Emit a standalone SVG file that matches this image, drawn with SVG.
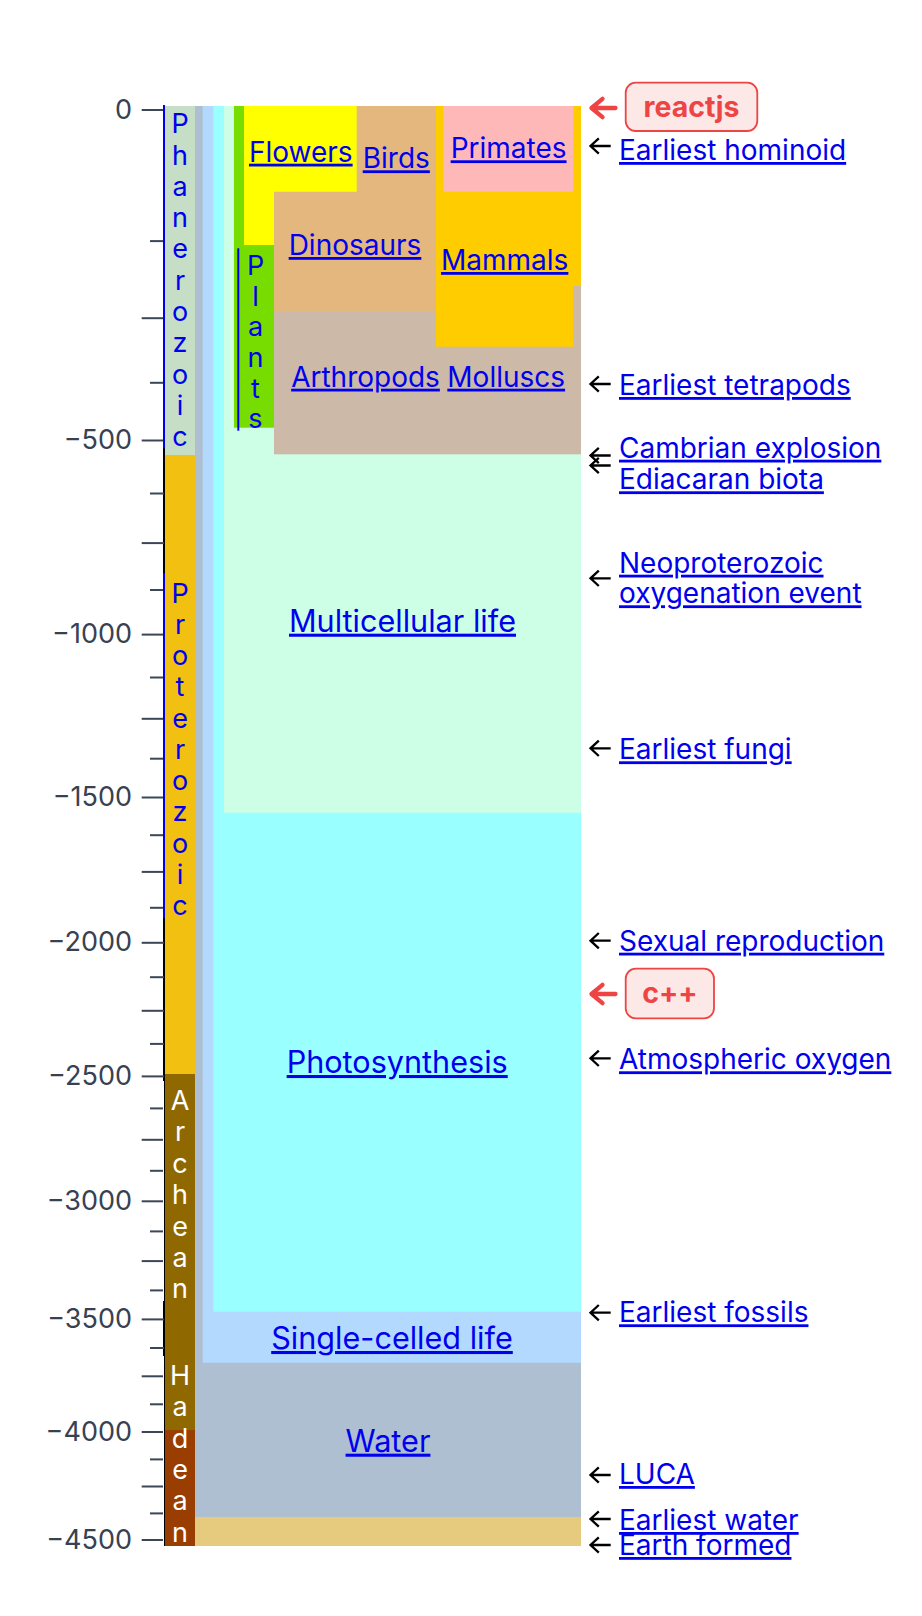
<svg xmlns="http://www.w3.org/2000/svg" width="922" height="1616" viewBox="0 0 922 1616">
<style>
text{font-family:Inter,"Noto Sans","Liberation Sans",sans-serif}
.lnk{fill:#0000ee;font-size:28px;text-decoration:underline}
.big{fill:#0000ee;font-size:30.6px;text-decoration:underline}
.ctr{text-anchor:middle}
.ax{fill:#374151;font-size:27px;text-anchor:end}
.tk{stroke:#3b4657;stroke-width:2}
.vt{font-size:27px;text-anchor:middle}
.blue{fill:#0000ee}
.wht{fill:#ffffff}
.arr{fill:none;stroke:#000;stroke-width:2.3}
.rarr{fill:none;stroke:#ef4444;stroke-width:4.3;stroke-linecap:round;stroke-linejoin:round}
.badge{fill:#fde8e8;stroke:#ef4444;stroke-width:1.8}
.btxt{fill:#ef4444;font-size:28.5px;font-weight:700;text-anchor:middle}
</style>
<rect width="922" height="1616" fill="#ffffff"/>
<g id="eons">
<rect x="165" y="106" width="30" height="349" fill="#c5dec5"/>
<rect x="165" y="455" width="30" height="619" fill="#f1c010"/>
<rect x="165" y="1074" width="30" height="356" fill="#906800"/>
<rect x="165" y="1430" width="30" height="116" fill="#993d00"/>
</g>
<g id="earth-formed"><rect x="195" y="1517" width="386" height="29" fill="#e6cb7f"/></g>
<g id="water"><rect x="195" y="106" width="386" height="1411" fill="#aebfd2"/>
<text class="big ctr" x="388" y="1451.7">Water</text></g>
<g id="single-celled"><rect x="202.7" y="106" width="378.3" height="1256.7" fill="#b3d9ff"/>
<text class="big ctr" x="392" y="1349">Single-celled life</text></g>
<g id="photosynthesis"><rect x="213.3" y="106" width="367.7" height="1205.7" fill="#99ffff"/>
<text class="big ctr" x="397.2" y="1073">Photosynthesis</text></g>
<g id="multicellular"><rect x="224" y="106" width="357" height="706.7" fill="#ccffe5"/>
<text class="big ctr" x="402.5" y="631.7">Multicellular life</text></g>
<g id="plants"><rect x="234" y="106" width="40" height="321.7" fill="#77dd00"/></g>
<g id="animals"><rect x="274" y="106" width="307" height="348.3" fill="#ccb9a8"/>
<text class="lnk ctr" x="365.5" y="386.7">Arthropods</text>
<text class="lnk ctr" x="506.2" y="386.7">Molluscs</text></g>
<g id="dinosaurs"><rect x="274" y="191.7" width="162" height="119.3" fill="#e4b77f"/>
<text class="lnk ctr" x="355" y="255">Dinosaurs</text></g>
<g id="birds"><rect x="356.7" y="106" width="79.3" height="85.7" fill="#e4b77f"/>
<text class="lnk ctr" x="396.3" y="168.3">Birds</text></g>
<g id="flowers"><path d="M244 106H356.7V191.7H274V245H244Z" fill="#ffff00"/>
<text class="lnk ctr" x="300.8" y="161.7">Flowers</text></g>
<g id="mammals"><path d="M436 106H581V286H573.3V346.7H436Z" fill="#ffcc00"/>
<text class="lnk ctr" x="504.7" y="270" font-size="27.5">Mammals</text></g>
<g id="primates"><rect x="443.3" y="106" width="130" height="85.7" fill="#ffb8b8"/>
<text class="lnk ctr" x="508.6" y="158.3">Primates</text></g>
<g id="plants-label">
<line x1="238.3" y1="248.3" x2="238.3" y2="430.7" stroke="#0000ee" stroke-width="2"/>
<text class="vt blue"><tspan x="255.5" y="275">P</tspan><tspan x="255.5" y="305.7">l</tspan><tspan x="255.5" y="336.3">a</tspan><tspan x="255.5" y="367">n</tspan><tspan x="255.5" y="397.7">t</tspan><tspan x="255.5" y="428.3">s</tspan></text>
</g>
<g id="axis">
<line x1="164" y1="105" x2="164" y2="1546" stroke="#000" stroke-width="2"/>
<g class="tk">
<line x1="141.7" y1="110" x2="164" y2="110"/>
<line x1="150" y1="241.1" x2="164" y2="241.1"/>
<line x1="141.7" y1="318.2" x2="164" y2="318.2"/>
<line x1="150" y1="382.8" x2="164" y2="382.8"/>
<line x1="141.7" y1="440.5" x2="164" y2="440.5"/>
<line x1="150" y1="493.5" x2="164" y2="493.5"/>
<line x1="141.7" y1="543.1" x2="164" y2="543.1"/>
<line x1="150" y1="590" x2="164" y2="590"/>
<line x1="141.7" y1="634.6" x2="164" y2="634.6"/>
<line x1="150" y1="677.5" x2="164" y2="677.5"/>
<line x1="141.7" y1="718.8" x2="164" y2="718.8"/>
<line x1="150" y1="758.7" x2="164" y2="758.7"/>
<line x1="141.7" y1="797.5" x2="164" y2="797.5"/>
<line x1="150" y1="835.2" x2="164" y2="835.2"/>
<line x1="141.7" y1="871.9" x2="164" y2="871.9"/>
<line x1="150" y1="907.8" x2="164" y2="907.8"/>
<line x1="141.7" y1="942.8" x2="164" y2="942.8"/>
<line x1="150" y1="977.2" x2="164" y2="977.2"/>
<line x1="141.7" y1="1010.8" x2="164" y2="1010.8"/>
<line x1="150" y1="1043.9" x2="164" y2="1043.9"/>
<line x1="141.7" y1="1076.4" x2="164" y2="1076.4"/>
<line x1="150" y1="1108.4" x2="164" y2="1108.4"/>
<line x1="141.7" y1="1139.8" x2="164" y2="1139.8"/>
<line x1="150" y1="1170.8" x2="164" y2="1170.8"/>
<line x1="141.7" y1="1201.3" x2="164" y2="1201.3"/>
<line x1="150" y1="1231.4" x2="164" y2="1231.4"/>
<line x1="141.7" y1="1261.1" x2="164" y2="1261.1"/>
<line x1="150" y1="1290.4" x2="164" y2="1290.4"/>
<line x1="141.7" y1="1319.4" x2="164" y2="1319.4"/>
<line x1="150" y1="1348" x2="164" y2="1348"/>
<line x1="141.7" y1="1376.3" x2="164" y2="1376.3"/>
<line x1="150" y1="1404.3" x2="164" y2="1404.3"/>
<line x1="141.7" y1="1432" x2="164" y2="1432"/>
<line x1="150" y1="1459.4" x2="164" y2="1459.4"/>
<line x1="141.7" y1="1486.5" x2="164" y2="1486.5"/>
<line x1="150" y1="1513.4" x2="164" y2="1513.4"/>
<line x1="141.7" y1="1540" x2="164" y2="1540"/>
</g>
<text class="ax" x="132" y="118.6">0</text>
<text class="ax" x="132" y="449.1">−500</text>
<text class="ax" x="132" y="643.2">−1000</text>
<text class="ax" x="132" y="806.1">−1500</text>
<text class="ax" x="132" y="951.4">−2000</text>
<text class="ax" x="132" y="1085">−2500</text>
<text class="ax" x="132" y="1209.9">−3000</text>
<text class="ax" x="132" y="1328">−3500</text>
<text class="ax" x="132" y="1440.6">−4000</text>
<text class="ax" x="132" y="1548.6">−4500</text>
</g>
<g id="eon-labels">
<line x1="164" y1="105" x2="164" y2="448.3" stroke="#0000ee" stroke-width="2"/>
<line x1="164" y1="573.3" x2="164" y2="918.3" stroke="#0000ee" stroke-width="2"/>
<line x1="163.5" y1="1081" x2="163.5" y2="1301" stroke="#ffffff" stroke-width="1"/>
<line x1="163.5" y1="1356" x2="163.5" y2="1546" stroke="#ffffff" stroke-width="1"/>
<text class="vt blue"><tspan x="180" y="133.3">P</tspan><tspan x="180" y="164.6">h</tspan><tspan x="180" y="195.8">a</tspan><tspan x="180" y="227.1">n</tspan><tspan x="180" y="258.4">e</tspan><tspan x="180" y="289.7">r</tspan><tspan x="180" y="320.9">o</tspan><tspan x="180" y="352.2">z</tspan><tspan x="180" y="383.5">o</tspan><tspan x="180" y="414.7">i</tspan><tspan x="180" y="446">c</tspan></text>
<text class="vt blue"><tspan x="180" y="602.7">P</tspan><tspan x="180" y="633.9">r</tspan><tspan x="180" y="665.2">o</tspan><tspan x="180" y="696.4">t</tspan><tspan x="180" y="727.6">e</tspan><tspan x="180" y="758.9">r</tspan><tspan x="180" y="790.1">o</tspan><tspan x="180" y="821.3">z</tspan><tspan x="180" y="852.5">o</tspan><tspan x="180" y="883.8">i</tspan><tspan x="180" y="915">c</tspan></text>
<text class="vt wht"><tspan x="180" y="1110">A</tspan><tspan x="180" y="1141.4">r</tspan><tspan x="180" y="1172.8">c</tspan><tspan x="180" y="1204.2">h</tspan><tspan x="180" y="1235.6">e</tspan><tspan x="180" y="1267">a</tspan><tspan x="180" y="1298.4">n</tspan></text>
<text class="vt wht"><tspan x="180" y="1385">H</tspan><tspan x="180" y="1416.3">a</tspan><tspan x="180" y="1447.6">d</tspan><tspan x="180" y="1478.9">e</tspan><tspan x="180" y="1510.2">a</tspan><tspan x="180" y="1541.5">n</tspan></text>
</g>
<g id="connectors">
<path class="arr" d="M610.7 146H590.5M598.8 138.3L590.5 146L598.8 153.7"/>
<path class="arr" d="M610.7 384H590.5M598.8 376.3L590.5 384L598.8 391.7"/>
<path class="arr" d="M610.7 455.5H590.5M598.8 447.8L590.5 455.5L598.8 463.2"/>
<path class="arr" d="M610.7 465.5H590.5M598.8 457.8L590.5 465.5L598.8 473.2"/>
<path class="arr" d="M610.7 578.3H590.5M598.8 570.6L590.5 578.3L598.8 586"/>
<path class="arr" d="M610.7 748.3H590.5M598.8 740.6L590.5 748.3L598.8 756"/>
<path class="arr" d="M610.7 940.7H590.5M598.8 933L590.5 940.7L598.8 948.4"/>
<path class="arr" d="M610.7 1058.3H590.5M598.8 1050.6L590.5 1058.3L598.8 1066"/>
<path class="arr" d="M610.7 1312.7H590.5M598.8 1305L590.5 1312.7L598.8 1320.4"/>
<path class="arr" d="M610.7 1475H590.5M598.8 1467.3L590.5 1475L598.8 1482.7"/>
<path class="arr" d="M610.7 1519H590.5M598.8 1511.3L590.5 1519L598.8 1526.7"/>
<path class="arr" d="M610.7 1545H590.5M598.8 1537.3L590.5 1545L598.8 1552.7"/>
<path class="rarr" d="M615.5 108H591.5M602.5 98.8L591.5 108L602.5 117.2"/>
<path class="rarr" d="M615.5 994H591.5M602.5 984.8L591.5 994L602.5 1003.2"/>
</g>
<g id="events">
<text class="lnk" x="619" y="160">Earliest hominoid</text>
<text class="lnk" x="619" y="395">Earliest tetrapods</text>
<text class="lnk" x="619" y="457.7">Cambrian explosion</text>
<text class="lnk" x="619" y="489.3">Ediacaran biota</text>
<text class="lnk" x="619" y="572.7">Neoproterozoic</text>
<text class="lnk" x="619" y="603.3">oxygenation event</text>
<text class="lnk" x="619" y="759.3">Earliest fungi</text>
<text class="lnk" x="619" y="950.7">Sexual reproduction</text>
<text class="lnk" x="619" y="1069.3">Atmospheric oxygen</text>
<text class="lnk" x="619" y="1322.3">Earliest fossils</text>
<text class="lnk" x="619" y="1484">LUCA</text>
<text class="lnk" x="619" y="1530">Earliest water</text>
<text class="lnk" x="619" y="1555">Earth formed</text>
</g>
<g id="badge-reactjs"><rect class="badge" x="625.7" y="82.7" width="131.6" height="48.3" rx="10"/>
<text class="btxt" x="691.5" y="116.7">reactjs</text></g>
<g id="badge-cpp"><rect class="badge" x="625.7" y="968.7" width="88.3" height="49.6" rx="10"/>
<text class="btxt" x="669.9" y="1003.3">c++</text></g>
</svg>
